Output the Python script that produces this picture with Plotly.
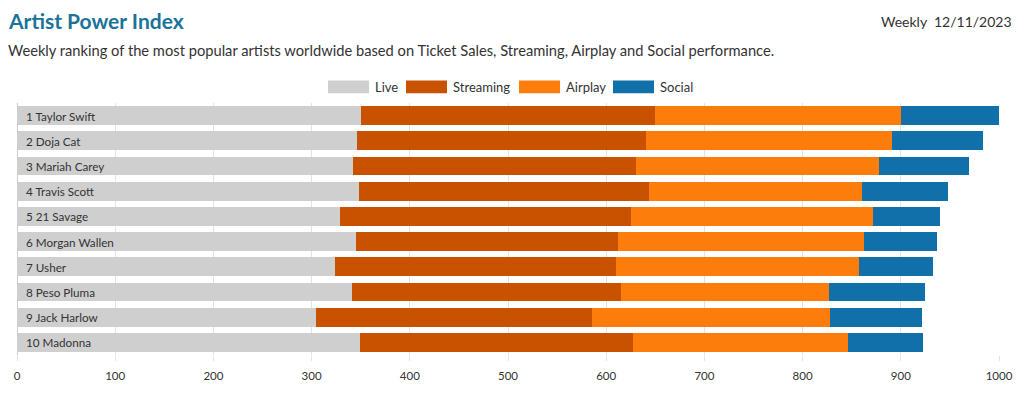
import plotly.graph_objects as go

artists = ["1 Taylor Swift", "2 Doja Cat", "3 Mariah Carey", "4 Travis Scott", "5 21 Savage",
           "6 Morgan Wallen", "7 Usher", "8 Peso Pluma", "9 Jack Harlow", "10 Madonna"]
live = [350, 346, 342, 348, 329, 345, 324, 341, 304, 349]
streaming = [300, 295, 288, 296, 296, 267, 286, 274, 282, 278]
airplay = [250, 250, 248, 216, 247, 251, 247, 212, 242, 219]
social = [100, 93, 91, 88, 68, 74, 76, 98, 94, 77]
series_names = ["Live", "Streaming", "Airplay", "Social"]
colors = ["#cfcfcf", "#c85200", "#fc7d0b", "#1170aa"]
xticks = [0, 100, 200, 300, 400, 500, 600, 700, 800, 900, 1000]

W, H = 1025, 394
L, R, T, B = 17, 26, 103, 33
FONT = "Lato"

fig = go.Figure()
for name, vals, col in zip(series_names, [live, streaming, airplay, social], colors):
    fig.add_trace(go.Bar(
        y=artists, x=vals, name=name, orientation="h",
        marker=dict(color=col, line=dict(width=0)),
        hoverinfo="x+name",
    ))

annotations = []
for a in artists:
    annotations.append(dict(x=0, y=a, xref="x", yref="y", text=a, showarrow=False,
                            xanchor="left", xshift=7, font=dict(family=FONT, size=11.7, color="#333333")))

pw = W - L - R
ph = H - T - B
def px_x(p):
    return (p - L) / pw
def px_y(p):
    return (H - B - p) / ph

shapes = []
leg_x = [328, 406, 519, 613]
for name, col, x0 in zip(series_names, colors, leg_x):
    shapes.append(dict(type="rect", xref="paper", yref="paper",
                       x0=px_x(x0), x1=px_x(x0 + 41), y0=px_y(93), y1=px_y(80),
                       fillcolor=col, line=dict(width=0)))
    annotations.append(dict(x=px_x(x0 + 45), y=px_y(86.5), xref="paper", yref="paper",
                            text=name, showarrow=False, xanchor="left", yanchor="middle",
                            font=dict(family=FONT, size=13, color="#333333")))

annotations.append(dict(x=px_x(6), y=px_y(19), xref="paper", yref="paper", text="<b>Artist Power Index</b>",
                        showarrow=False, xanchor="left", yanchor="middle",
                        font=dict(family=FONT, size=21, color="#1b7399")))
annotations.append(dict(x=px_x(6), y=px_y(49), xref="paper", yref="paper",
                        text="Weekly ranking of the most popular artists worldwide based on Ticket Sales, Streaming, Airplay and Social performance.",
                        showarrow=False, xanchor="left", yanchor="middle",
                        font=dict(family=FONT, size=14.7, color="#333333")))
annotations.append(dict(x=px_x(1014), y=px_y(20), xref="paper", yref="paper", text="Weekly  12/11/2023",
                        showarrow=False, xanchor="right", yanchor="middle",
                        font=dict(family=FONT, size=14, color="#333333")))

fig.update_layout(
    width=W, height=H,
    margin=dict(l=L, r=R, t=T, b=B, pad=0),
    barmode="stack", bargap=0.26,
    plot_bgcolor="white", paper_bgcolor="white",
    showlegend=False,
    font=dict(family=FONT, size=11, color="#333333"),
    xaxis=dict(range=[0, 1000], tickvals=xticks, showgrid=True, gridcolor="#e3e3e3", gridwidth=1,
               zeroline=True, zerolinecolor="#cccccc", zerolinewidth=1,
               ticks="outside", ticklen=5, tickcolor="#e3e3e3", ticklabelstandoff=5,
               tickfont=dict(family=FONT, size=11.5, color="#333333")),
    yaxis=dict(autorange="reversed", showticklabels=False, showgrid=False, ticks=""),
    shapes=shapes,
    annotations=annotations,
)

fig.write_html("out.html", config={"displayModeBar": False},
               post_script="document.body.style.margin='0';document.body.style.overflow='hidden';")
